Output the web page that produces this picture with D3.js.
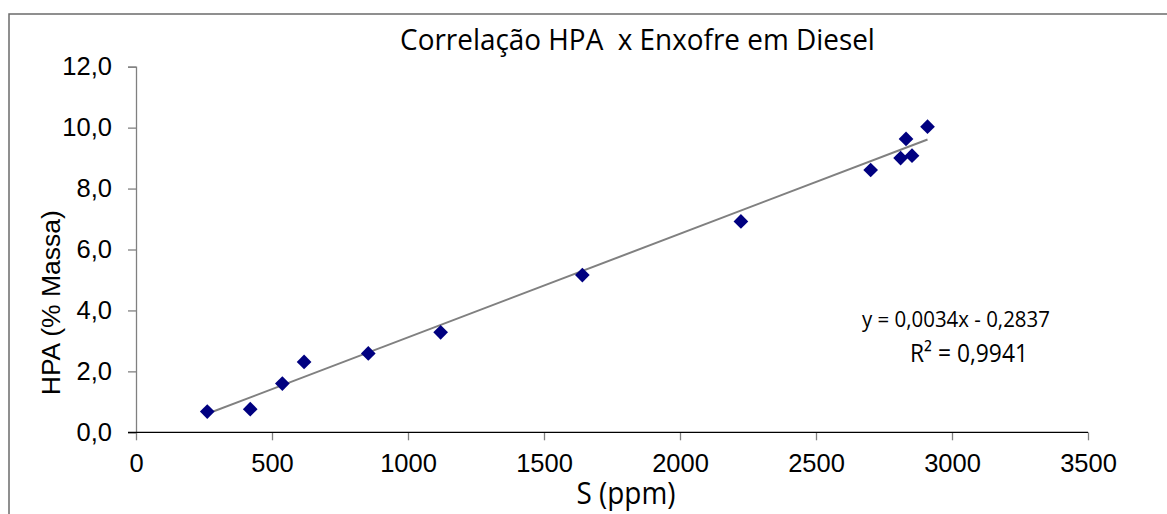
<!DOCTYPE html>
<html><head><meta charset="utf-8">
<script src="https://cdn.jsdelivr.net/npm/d3@7"></script>
<style>body{margin:0;background:#fff;overflow:hidden}</style>
</head><body><svg id="c" width="1167" height="514"></svg>
<script>
const sulfurPpm = [262, 420, 538, 618, 854, 1120, 1641, 2224, 2701, 2811, 2831, 2853, 2910];
const hpaMass   = [0.68, 0.76, 1.60, 2.31, 2.59, 3.28, 5.16, 6.92, 8.61, 9.00, 9.63, 9.08, 10.03];
const xTicks = [0, 500, 1000, 1500, 2000, 2500, 3000, 3500];
const yTicks = [0, 2, 4, 6, 8, 10, 12];
const trendSlope = 0.0034, trendIntercept = -0.2837;
const titleText = "Correlação HPA\u00A0 x Enxofre em Diesel";
const xTitle = "S (ppm)", yTitle = "HPA (% Massa)";
const eqLines = ["y = 0,0034x - 0,2837", "R² = 0,9941"];

const svg = d3.select("#c");
const locale = d3.formatLocale({decimal: ",", thousands: ".", grouping: [3], currency: ["", ""]});
const fmtY = locale.format(".1f");

const x = d3.scaleLinear().domain([0, 3500]).range([136, 1088]);
const y = d3.scaleLinear().domain([0, 12]).range([432.3, 66.7]);

// outer frame
svg.append("rect").attr("x", 9).attr("y", 14).attr("width", 1200).attr("height", 560)
  .attr("fill", "none").attr("stroke", "#6b6b6b").attr("stroke-width", 1.5);

const sansC = "'Open Sans', sans-serif";
const arial = "Arial, 'Liberation Sans', sans-serif";

// text sized to the reference width, slightly condensed (Calibri-like proportions)
function label(xp, yp, txt, len, k, anchor) {
  const g = svg.append("g");
  const t = g.append("text").attr("x", 0).attr("y", 0).attr("text-anchor", anchor || "start")
    .attr("font-family", sansC).attr("font-size", 20).attr("fill", "#000").text(txt);
  const w = t.node().getComputedTextLength();
  t.attr("font-size", 20 * len / w * k);
  g.attr("transform", `translate(${xp},${yp}) scale(${1 / k},1)`);
  return t;
}

// title
label(637.5, 50, titleText, 475, 1.06, "middle");

// y axis
const yAxis = svg.append("g").attr("transform", "translate(136,0)")
  .call(d3.axisLeft(y).tickValues(yTicks).tickFormat(fmtY).tickSize(8).tickPadding(16));
yAxis.select(".domain").attr("stroke", "#808080").attr("stroke-width", 1.3);
yAxis.selectAll(".tick line").attr("stroke", "#808080").attr("stroke-width", 1.3);
yAxis.selectAll(".tick text").attr("font-family", arial).attr("font-size", 25.5).attr("fill", "#000");

// x axis
const xAxis = svg.append("g").attr("transform", "translate(0,432.3)")
  .call(d3.axisBottom(x).tickValues(xTicks).tickFormat(d3.format("d")).tickSize(8).tickPadding(14));
xAxis.select(".domain").remove();
xAxis.selectAll(".tick line").attr("stroke", "#808080").attr("stroke-width", 1.3);
xAxis.selectAll(".tick text").attr("font-family", arial).attr("font-size", 25.5).attr("fill", "#000");
svg.append("line").attr("x1", 128).attr("x2", x(3500)).attr("y1", y(0)).attr("y2", y(0))
  .attr("stroke", "#000").attr("stroke-width", 1.3);

// axis titles
label(626, 504, xTitle, 99, 1.08, "middle");
svg.append("text").attr("transform", "translate(60,302.7) rotate(-90)").attr("text-anchor", "middle")
  .attr("font-family", arial).attr("font-size", 26.5).attr("fill", "#000").text(yTitle);

// trendline
const xmin = d3.min(sulfurPpm), xmax = d3.max(sulfurPpm);
svg.append("line").attr("x1", x(xmin)).attr("y1", y(trendSlope * xmin + trendIntercept))
  .attr("x2", x(xmax)).attr("y2", y(trendSlope * xmax + trendIntercept))
  .attr("stroke", "#808080").attr("stroke-width", 2);

// points
const sym = d3.symbol().type(d3.symbolSquare).size(108);
svg.append("g").selectAll("path").data(sulfurPpm).join("path")
  .attr("d", sym)
  .attr("transform", (d, i) => `translate(${x(d)},${y(hpaMass[i])}) rotate(45)`)
  .attr("fill", "#000080");

// equation
label(862, 327, eqLines[0], 188, 1.1);
label(910, 361.7, eqLines[1], 118, 1.1);
</script></body></html>
